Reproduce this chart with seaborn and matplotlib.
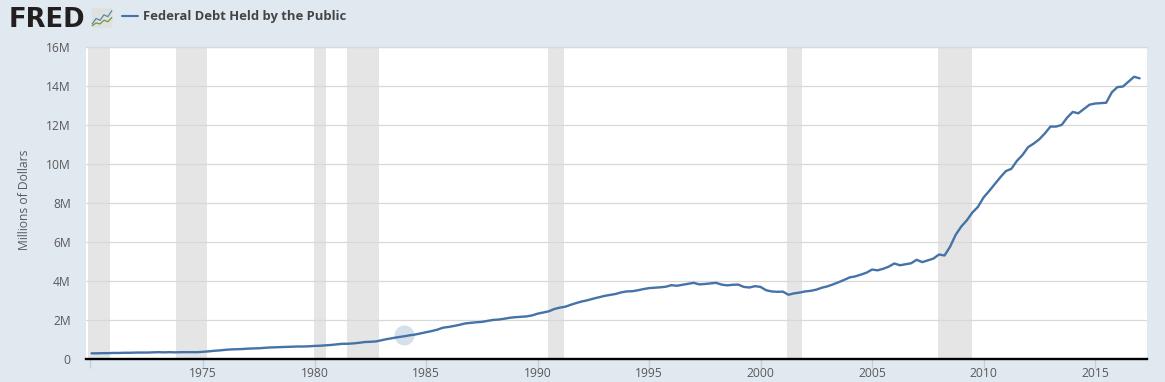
import numpy as np
import pandas as pd
import matplotlib
matplotlib.use("Agg")
import matplotlib.pyplot as plt
from matplotlib.patches import FancyBboxPatch
import seaborn as sns

debt_by_year = {
    1970: [.29, .29, .30, .30], 1971: [.31, .31, .32, .32], 1972: [.33, .33, .33, .34],
    1973: [.35, .34, .35, .34], 1974: [.35, .35, .35, .35], 1975: [.37, .39, .42, .44],
    1976: [.47, .49, .50, .51], 1977: [.53, .54, .55, .57], 1978: [.59, .60, .61, .62],
    1979: [.63, .64, .64, .65], 1980: [.67, .68, .70, .72], 1981: [.75, .78, .78, .80],
    1982: [.83, .87, .88, .90], 1983: [.96, 1.02, 1.07, 1.12], 1984: [1.16, 1.21, 1.25, 1.31],
    1985: [1.37, 1.43, 1.50, 1.60], 1986: [1.64, 1.69, 1.75, 1.82], 1987: [1.85, 1.88, 1.90, 1.95],
    1988: [2.00, 2.02, 2.06, 2.11], 1989: [2.14, 2.16, 2.18, 2.23], 1990: [2.32, 2.38, 2.44, 2.56],
    1991: [2.63, 2.68, 2.78, 2.87], 1992: [2.95, 3.01, 3.09, 3.16], 1993: [3.23, 3.28, 3.33, 3.41],
    1994: [3.46, 3.47, 3.52, 3.58], 1995: [3.63, 3.65, 3.67, 3.70], 1996: [3.78, 3.75, 3.80, 3.85],
    1997: [3.90, 3.82, 3.84, 3.87], 1998: [3.90, 3.81, 3.77, 3.80], 1999: [3.81, 3.69, 3.66, 3.73],
    2000: [3.69, 3.52, 3.46, 3.44], 2001: [3.45, 3.29, 3.36, 3.40], 2002: [3.46, 3.49, 3.55, 3.65],
    2003: [3.72, 3.82, 3.93, 4.05], 2004: [4.18, 4.23, 4.32, 4.42], 2005: [4.58, 4.54, 4.62, 4.73],
    2006: [4.89, 4.80, 4.85, 4.90], 2007: [5.08, 4.96, 5.05, 5.14], 2008: [5.35, 5.30, 5.75, 6.36],
    2009: [6.78, 7.10, 7.50, 7.79], 2010: [8.27, 8.60, 8.95, 9.30], 2011: [9.62, 9.74, 10.15, 10.45],
    2012: [10.85, 11.03, 11.25, 11.55], 2013: [11.90, 11.90, 11.98, 12.36], 2014: [12.65, 12.58, 12.80, 13.02],
    2015: [13.08, 13.10, 13.12, 13.65], 2016: [13.92, 13.95, 14.20, 14.45], 2017: [14.37],
}
recessions = [(1969.85, 1970.83), (1973.78, 1975.17), (1979.98, 1980.5), (1981.47, 1982.87),
              (1990.47, 1991.2), (2001.17, 2001.88), (2007.97, 2009.5)]
x_ticks = [1969.93, 1975, 1980, 1985, 1990, 1995, 2000, 2005, 2010, 2015]
x_labels = ["", "1975", "1980", "1985", "1990", "1995", "2000", "2005", "2010", "2015"]
y_ticks = [0, 2, 4, 6, 8, 10, 12, 14, 16]
y_labels = ["0", "2M", "4M", "6M", "8M", "10M", "12M", "14M", "16M"]
hover_year, hover_value = 1984.0, 1.23
icon_blue = [1.0, 2.2, 1.8, 3.0, 2.6, 3.9]
icon_green = [0.6, 1.2, 1.0, 1.8, 1.5, 2.4]

dates = [y + q * 0.25 for y, vals in debt_by_year.items() for q in range(len(vals))]
values = [v for vals in debt_by_year.values() for v in vals]
df = pd.DataFrame({"date": dates, "debt": values})

W, H = 1165, 382
BG, BLUE, GRID, BAND, TXT = "#e1e9f0", "#4572a7", "#d8d8d8", "#e5e5e5", "#595959"
sns.set_theme(style="white")
plt.rcParams["font.family"] = ["Open Sans", "DejaVu Sans"]

fig = plt.figure(figsize=(W / 100, H / 100), dpi=100, facecolor=BG)
ax = fig.add_axes([86 / W, 1 - 359 / H, (1147 - 86) / W, (359 - 46.5) / H], facecolor="white")
for a, b in recessions:
    ax.axvspan(a, b, color=BAND, lw=0, zorder=1)
ax.yaxis.grid(True, color=GRID, lw=0.9, zorder=2)
ax.set_axisbelow(False)
ax.scatter([hover_year], [hover_value], s=207, color=BLUE, alpha=0.22, lw=0, zorder=3, clip_on=False)
sns.lineplot(data=df, x="date", y="debt", ax=ax, color=BLUE, lw=1.7, zorder=4, errorbar=None)
ax.set_xlim(1969.75, 2017.33)
ax.set_ylim(0, 16)
ax.set_xticks(x_ticks, x_labels)
ax.set_yticks(y_ticks, y_labels)
ax.set_xlabel("")
ax.set_ylabel("Millions of Dollars", fontsize=8.7, color=TXT, labelpad=0)
ax.yaxis.set_label_coords((31 - 86) / (1147 - 86), 0.51)
ax.tick_params(axis="x", length=6.5, width=1, color="#c0d0e0", labelsize=8.7, labelcolor=TXT, pad=-1, bottom=True)
ax.tick_params(axis="y", length=0, labelsize=8.7, labelcolor=TXT, pad=11)
for s in ["left", "right"]:
    ax.spines[s].set_visible(False)
ax.spines["top"].set_visible(True)
ax.spines["top"].set_color(GRID)
ax.spines["top"].set_linewidth(0.9)
ax.spines["bottom"].set_color("black")
ax.spines["bottom"].set_linewidth(1.7)
ax.spines["bottom"].set_zorder(6)

fig.text(8.5 / W, 1 - 27 / H, "FRED", fontsize=18.6, fontweight="bold", color="#231f20",
         family="DejaVu Sans", va="baseline", ha="left")
fig.text(143 / W, 1 - 16.5 / H, "Federal Debt Held by the Public", fontsize=9.4, fontweight="bold",
         color="#444444", va="center", ha="left")
fig.add_artist(plt.Line2D([122 / W, 138 / W], [1 - 16 / H, 1 - 16 / H], color=BLUE, lw=1.5))

icon = fig.add_axes([91 / W, 1 - 28.5 / H, 22 / W, 21 / H], facecolor="none")
icon.add_patch(FancyBboxPatch((0.03, 0.03), 0.94, 0.94, boxstyle="round,pad=0,rounding_size=0.1",
                              transform=icon.transAxes, fc="#dfe0e0", ec="none"))
icon.plot(icon_blue, color="#5b87a8", lw=0.9)
icon.plot(icon_green, color="#6f9a3c", lw=0.9)
icon.set_xlim(-0.3, 5.3)
icon.set_ylim(0, 4.6)
icon.axis("off")

fig.savefig("out.png", dpi=100, facecolor=BG)
